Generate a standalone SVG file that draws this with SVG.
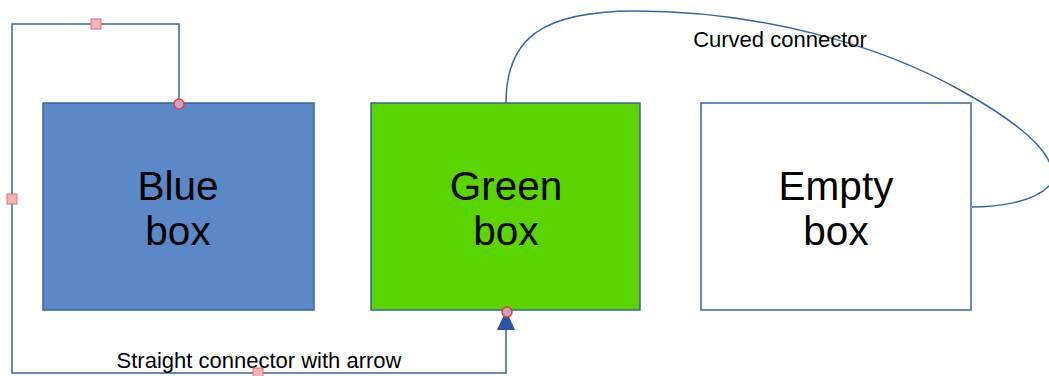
<svg xmlns="http://www.w3.org/2000/svg" width="1049" height="376" viewBox="0 0 1049 376">
<style>
.box{stroke:#3465a4;stroke-width:1.5}
.lbl{font-family:"Liberation Sans",Arial,sans-serif;font-size:40.5px;fill:#000;text-anchor:middle}
.cl{font-family:"Liberation Sans",Arial,sans-serif;font-size:22px;fill:#000;text-anchor:middle}
.conn{fill:none;stroke:#3465a4;stroke-width:1.5}
.hs{fill:#f4b4b4;stroke:#e87070;stroke-width:1}
.hc{fill:#d4a0b8;stroke:#e04040;stroke-width:1.5}
</style>
<rect width="1049" height="376" fill="#fff"/>
<g id="blue-box">
<rect class="box" x="43" y="103" width="271" height="207" fill="#5b88c6"/>
<text class="lbl" x="178" y="200">Blue</text>
<text class="lbl" x="178" y="245">box</text>
</g>
<g id="green-box">
<rect class="box" x="371" y="103" width="269" height="207" fill="#5ad500"/>
<text class="lbl" x="506" y="200">Green</text>
<text class="lbl" x="506" y="245">box</text>
</g>
<g id="empty-box">
<rect class="box" x="701" y="103" width="270" height="207" fill="#fff"/>
<text class="lbl" x="836" y="200">Empty</text>
<text class="lbl" x="836" y="245">box</text>
</g>
<g id="connectors">
<path class="conn" d="M179,103 V24 H12 V373 H506 V330"/>
<path d="M506,310 L515,330 L497,330 Z" fill="#2a55a0"/>
<path class="conn" d="M506,103 C506,40 540,11 635,11 C760,11 880,45 960,90 C1038,133 1062,165 1049,186 C1033,203 995,207 972,207"/>
<text class="cl" x="780" y="47">Curved connector</text>
<text class="cl" x="259" y="368">Straight connector with arrow</text>
<rect class="hs" x="91" y="19" width="10" height="10"/>
<rect class="hs" x="7" y="194" width="10" height="10"/>
<rect class="hs" x="253" y="368" width="10" height="10"/>
<circle class="hc" cx="179" cy="104" r="5"/>
<circle class="hc" cx="507" cy="312" r="5"/>
</g>
</svg>
